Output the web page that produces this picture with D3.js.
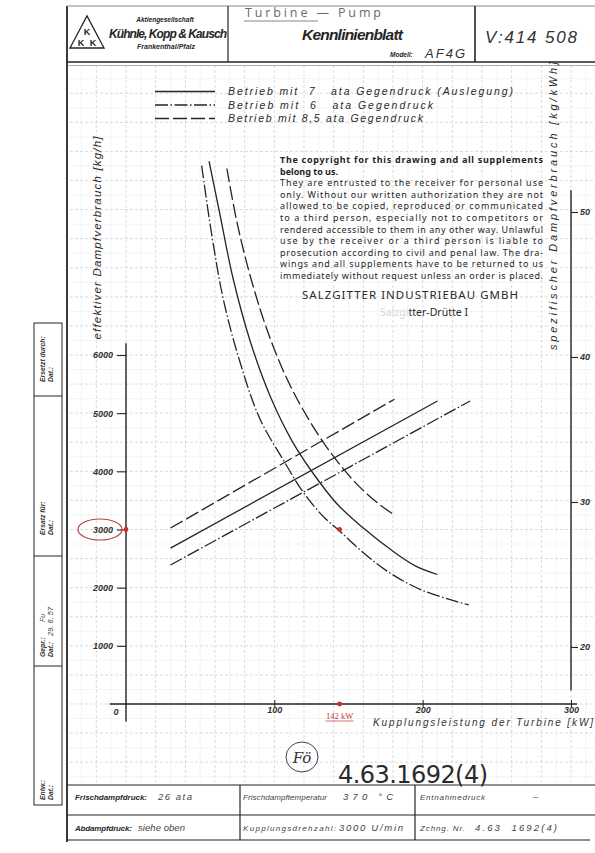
<!DOCTYPE html>
<html><head><meta charset="utf-8">
<script src="https://cdn.jsdelivr.net/npm/d3@7"></script>
<style>
html,body{margin:0;padding:0;background:#fff;}
svg{display:block;}
</style></head>
<body><svg id="c" width="595" height="853"></svg>
<script>
// ---------------- DATA ----------------
const xTicks = [100, 200, 300];
const leftTicks = [1000, 2000, 3000, 4000, 5000, 6000];
const rightTicks = [20, 30, 40, 50];

const seriesKeys = ["7 ata", "6 ata", "8,5 ata"];
const legendLabels = [
  "Betrieb mit  7   ata Gegendruck (Auslegung)",
  "Betrieb mit  6   ata Gegendruck",
  "Betrieb mit 8,5 ata Gegendruck"
];

// specific steam consumption curves [kg/kWh] vs coupling power [kW]
const specX7  = [56, 63, 72, 84, 98, 112, 126, 142, 160, 180, 195, 210];
const specY7  = [53.5, 50.0, 45.5, 41.0, 37.1, 34.2, 32.0, 29.9, 28.2, 26.6, 25.6, 25.0];
const specX6  = [51, 58, 66, 77, 90, 106, 120, 133, 144, 160, 178, 200, 231];
const specY6  = [53.2, 48.3, 43.8, 39.6, 35.8, 32.9, 30.6, 29.0, 28.0, 26.5, 25.1, 23.9, 22.9];
const specX85 = [68, 75, 84, 95, 108, 122, 138, 155, 170, 181];
const specY85 = [53.0, 49.2, 45.5, 41.9, 38.6, 35.9, 33.4, 31.3, 29.9, 29.1];

// effective steam consumption lines [kg/h] vs coupling power [kW]
const consX7  = [30, 210];
const consY7  = [2680, 5210];
const consX6  = [30, 232];
const consY6  = [2390, 5210];
const consX85 = [30, 181];
const consY85 = [3025, 5240];

// red annotation
const markerX = 144;
const markerY = 3000;
const markerLabel = "142 kW";

const copyrightLines = [
  "The copyright for this drawing and all supplements",
  "belong to us.",
  "They are entrusted to the receiver for personal use",
  "only. Without our written authorization they are not",
  "allowed to be copied, reproduced or communicated",
  "to a third person, especially not to competitors or",
  "rendered accessible to them in any other way. Unlawful",
  "use by the receiver or a third person is liable to",
  "prosecution according to civil and penal law. The dra-",
  "wings and all supplements have to be returned to us",
  "immediately without request unless an order is placed."
];

// ---------------- DRAWING ----------------
const svg = d3.select("#c");
const ink = "#252525";
svg.append("rect").attr("width", 595).attr("height", 853).attr("fill", "#fff");

const x = d3.scaleLinear().domain([0, 300]).range([126, 571]);
const yL = d3.scaleLinear().domain([0, 6000]).range([704, 355]);
const yR = d3.scaleLinear().domain([20, 50]).range([647, 212]);

// graph-paper grid
const defs = svg.append("defs");
defs.append("clipPath").attr("id", "gclip").append("rect")
  .attr("x", 68).attr("y", 66).attr("width", 527).attr("height", 716);
const grid = svg.append("g").attr("clip-path", "url(#gclip)");
d3.range(-40, 321, 10).forEach(v => {
  const major = v % 20 === 0;
  grid.append("line").attr("x1", x(v)).attr("x2", x(v)).attr("y1", 60).attr("y2", 790)
    .attr("stroke", major ? "#cdcdcd" : "#e9e9e9").attr("stroke-width", major ? 0.7 : 0.5)
    .attr("stroke-dasharray", major ? "3,2" : null);
});
d3.range(-1500, 11500, 250).forEach(v => {
  const major = v % 500 === 0;
  grid.append("line").attr("x1", 60).attr("x2", 600).attr("y1", yL(v)).attr("y2", yL(v))
    .attr("stroke", major ? "#cdcdcd" : "#e9e9e9").attr("stroke-width", major ? 0.7 : 0.5)
    .attr("stroke-dasharray", major ? "3,2" : null);
});

// frame + title block
const fr = svg.append("g").attr("stroke", ink).attr("fill", "none");
fr.append("line").attr("x1", 67).attr("x2", 67).attr("y1", 6).attr("y2", 842).attr("stroke-width", 1.8);
fr.append("line").attr("x1", 67).attr("x2", 595).attr("y1", 6).attr("y2", 6).attr("stroke-width", 1).attr("stroke", "#888");
fr.append("line").attr("x1", 67).attr("x2", 595).attr("y1", 62).attr("y2", 62).attr("stroke-width", 1.6);
fr.append("line").attr("x1", 67).attr("x2", 595).attr("y1", 65.5).attr("y2", 65.5).attr("stroke-width", 0.6).attr("stroke", "#777");
fr.append("line").attr("x1", 228).attr("x2", 228).attr("y1", 6).attr("y2", 62).attr("stroke-width", 1.2);
fr.append("line").attr("x1", 475).attr("x2", 475).attr("y1", 6).attr("y2", 62).attr("stroke-width", 1.6);

// logo
const logo = svg.append("g");
logo.append("path").attr("d", "M70,48 L87,16 L104,48 Z").attr("fill", "none").attr("stroke", ink).attr("stroke-width", 1.3);
logo.append("text").attr("x", 87).attr("y", 35).attr("text-anchor", "middle").text("K");
logo.append("text").attr("x", 81).attr("y", 45.5).attr("text-anchor", "middle").text("K");
logo.append("text").attr("x", 93).attr("y", 45.5).attr("text-anchor", "middle").text("K");
logo.selectAll("text").attr("font-family", "Liberation Sans").attr("font-weight", "bold").attr("font-size", 9).attr("fill", ink);

function txt(g, s, xx, yy, o) {
  o = o || {};
  const t = g.append("text").attr("x", xx).attr("y", yy).text(s)
    .attr("font-family", o.family || "Liberation Sans")
    .attr("font-size", o.size || 9)
    .attr("font-style", o.style || "normal")
    .attr("font-weight", o.weight || "normal")
    .attr("fill", o.fill || ink)
    .attr("text-anchor", o.anchor || "start");
  if (o.len) t.attr("textLength", o.len).attr("lengthAdjust", o.adj || "spacing");
  if (o.rot) t.attr("transform", `rotate(${o.rot},${xx},${yy})`);
  if (o.ws) t.attr("xml:space", "preserve");
  return t;
}
const T = svg.append("g");
txt(T, "Aktiengesellschaft", 165, 22, {size: 6.5, style: "italic", weight: "bold", anchor: "middle"});
txt(T, "Kühnle, Kopp & Kausch", 109, 38, {size: 12, style: "italic", weight: "bold", len: 118});
txt(T, "Frankenthal/Pfalz", 166, 49, {size: 7, style: "italic", weight: "bold", anchor: "middle"});
txt(T, "Turbine — Pump", 245, 17, {size: 12.5, fill: "#6a6a6a", len: 136, family: "Open Sans"});
T.append("line").attr("x1", 244).attr("x2", 318).attr("y1", 21).attr("y2", 21).attr("stroke", "#777").attr("stroke-width", 0.9);
txt(T, "Kennlinienblatt", 302, 40, {size: 15.5, style: "italic", weight: "bold", len: 101});
txt(T, "Modell:", 390, 57, {size: 6.5, style: "italic", weight: "bold"});
txt(T, "AF4G", 425, 57.5, {size: 13, style: "italic", len: 40, fill: "#333"});
txt(T, "V:414 508", 485, 43, {size: 17, style: "italic", len: 92, fill: "#333"});

// left strip
const strip = svg.append("g").attr("stroke", ink).attr("fill", "none").attr("stroke-width", 1);
strip.append("rect").attr("x", 34).attr("y", 323).attr("width", 28).attr("height", 482);
[396, 556, 666].forEach(yy => strip.append("line").attr("x1", 34).attr("x2", 62).attr("y1", yy).attr("y2", yy));
const S = svg.append("g");
const sOpt = {size: 6.8, style: "italic", weight: "bold", rot: -90, fill: "#333"};
txt(S, "Ersetzt durch:", 45, 382, sOpt); txt(S, "Dat.:", 52.5, 382, sOpt);
txt(S, "Ersatz für:", 45, 535, sOpt); txt(S, "Dat.:", 52.5, 535, sOpt);
txt(S, "Gepr.:", 45, 657, sOpt); txt(S, "Dat.:", 52.5, 657, sOpt);
txt(S, "Fu", 45, 622, {size: 7, style: "italic", rot: -90, fill: "#555"});
txt(S, "29. 6. 57", 52.5, 636, {size: 7.5, style: "italic", rot: -90, fill: "#444"});
txt(S, "Entw.:", 45, 800, sOpt); txt(S, "Dat.:", 52.5, 800, sOpt);

// legend
const styles = {
  "7 ata": null,
  "6 ata": "13,2.5,1.5,2.5",
  "8,5 ata": "14,4"
};
const L = svg.append("g");
const legY = [91.5, 105, 118.5];
const legLen = [285, 205, 195];
seriesKeys.forEach((k, i) => {
  L.append("line").attr("x1", 155).attr("x2", 215).attr("y1", legY[i]).attr("y2", legY[i])
    .attr("stroke", ink).attr("stroke-width", 1.3).attr("stroke-dasharray", styles[k]);
  txt(L, legendLabels[i], 228, legY[i] + 3.5, {size: 10.5, style: "italic", len: legLen[i], fill: "#2a2a2a", ws: true});
});

// copyright block
const C = svg.append("g");
copyrightLines.forEach((s, i) => {
  const bold = i < 2;
  const just = i !== 1;
  txt(C, s, 280, 163 + i * 11.6, {size: 9, family: "Noto Sans", weight: bold ? "bold" : "normal", len: just ? 263 : null, fill: "#1e1e1e"});
});
txt(C, "SALZGITTER INDUSTRIEBAU GMBH", 302, 299, {size: 11.5, family: "Noto Sans", len: 216, fill: "#2a2a2a"});
const dr = C.append("text").attr("x", 468).attr("y", 316).attr("text-anchor", "end")
  .attr("font-family", "Noto Sans").attr("font-size", 10.5);
dr.append("tspan").attr("fill", "#d8d8d8").text("Salzgi");
dr.append("tspan").attr("fill", "#2a2a2a").text("tter-Drütte I");

// axes
const A = svg.append("g");
// left axis
const gL = A.append("g").attr("transform", `translate(${x(0)},0)`)
  .call(d3.axisLeft(yL).tickValues(leftTicks).tickSize(9).tickPadding(4).tickFormat(d3.format("d")));
gL.select(".domain").remove();
gL.selectAll("line").attr("stroke", ink).attr("stroke-width", 1.1);
gL.selectAll("text").attr("font-family", "Liberation Sans").attr("font-style", "italic")
  .attr("font-weight", "bold").attr("font-size", 9).attr("fill", "#333");
A.append("line").attr("x1", x(0)).attr("x2", x(0)).attr("y1", yL(6200)).attr("y2", yL(-300))
  .attr("stroke", ink).attr("stroke-width", 1.4);
// right axis
const gR = A.append("g").attr("transform", `translate(${x(300)},0)`)
  .call(d3.axisRight(yR).tickValues(rightTicks).tickSize(7).tickPadding(2));
gR.select(".domain").remove();
gR.selectAll("line").attr("stroke", ink).attr("stroke-width", 1.1);
gR.selectAll("text").attr("font-family", "Liberation Sans").attr("font-style", "italic")
  .attr("font-weight", "bold").attr("font-size", 9).attr("fill", "#333");
A.append("line").attr("x1", x(300)).attr("x2", x(300)).attr("y1", yR(51.5)).attr("y2", yR(17))
  .attr("stroke", ink).attr("stroke-width", 1.4);
// x axis
const gX = A.append("g").attr("transform", `translate(0,${yL(0) - 4})`)
  .call(d3.axisBottom(x).tickValues(xTicks).tickSize(7).tickPadding(0));
gX.select(".domain").remove();
gX.selectAll("line").attr("stroke", ink).attr("stroke-width", 1);
gX.selectAll("text").attr("font-family", "Liberation Sans").attr("font-style", "italic")
  .attr("font-weight", "bold").attr("font-size", 9).attr("fill", "#333");
A.append("line").attr("x1", x(-11)).attr("x2", x(304)).attr("y1", yL(0)).attr("y2", yL(0))
  .attr("stroke", ink).attr("stroke-width", 1.3);
txt(A, "0", x(0) - 10, yL(0) + 11, {size: 9, style: "italic", weight: "bold", anchor: "middle", fill: "#333"});

// axis titles
txt(A, "effektiver Dampfverbrauch [kg/h]", 101, 238, {size: 11.5, style: "italic", rot: -90, anchor: "middle", len: 203, fill: "#2a2a2a"});
txt(A, "spezifischer Dampfverbrauch [kg/kWh]", 557, 206, {size: 11, style: "italic", rot: -90, anchor: "middle", len: 288, fill: "#2a2a2a"});
txt(A, "Kupplungsleistung der Turbine [kW]", 593, 726, {size: 10, style: "italic", anchor: "end", len: 220, fill: "#333"});

// curves
const P = svg.append("g").attr("fill", "none").attr("stroke", ink).attr("stroke-width", 1.3);
const specLine = d3.line().x(d => x(d[0])).y(d => yR(d[1])).curve(d3.curveCatmullRom.alpha(0.5));
const consLine = d3.line().x(d => x(d[0])).y(d => yL(d[1]));
const specData = {"7 ata": [specX7, specY7], "6 ata": [specX6, specY6], "8,5 ata": [specX85, specY85]};
const consData = {"7 ata": [consX7, consY7], "6 ata": [consX6, consY6], "8,5 ata": [consX85, consY85]};
seriesKeys.forEach(k => {
  const [sx, sy] = specData[k];
  P.append("path").attr("d", specLine(sx.map((v, i) => [v, sy[i]]))).attr("stroke-dasharray", styles[k]);
  const [cx, cy] = consData[k];
  P.append("path").attr("d", consLine(cx.map((v, i) => [v, cy[i]]))).attr("stroke-dasharray", styles[k]);
});

// red annotation
const R = svg.append("g");
R.append("ellipse").attr("cx", 100).attr("cy", yL(markerY)).attr("rx", 22).attr("ry", 10.5)
  .attr("fill", "none").attr("stroke", "#b54747").attr("stroke-width", 1.2);
[[0, markerY], [markerX, markerY], [markerX, 0]].forEach(p => {
  R.append("circle").attr("cx", x(p[0])).attr("cy", yL(p[1])).attr("r", 2.4).attr("fill", "#d42a2a");
});
txt(R, markerLabel, x(markerX), 719, {size: 8.5, family: "Liberation Serif", anchor: "middle", fill: "#c83232"});
R.append("line").attr("x1", x(markerX) - 14).attr("x2", x(markerX) + 14).attr("y1", 721).attr("y2", 721)
  .attr("stroke", "#c83232").attr("stroke-width", 0.7);

// stamp + drawing number
const D = svg.append("g");
D.append("ellipse").attr("cx", 302).attr("cy", 757).attr("rx", 16).attr("ry", 15)
  .attr("fill", "none").attr("stroke", "#444").attr("stroke-width", 1);
txt(D, "Fö", 302, 763, {size: 15, style: "italic", anchor: "middle", fill: "#333", family: "DejaVu Serif"});
txt(D, "4.63.1692(4)", 338, 783, {size: 24, family: "DejaVu Sans", len: 150, fill: "#2a2a2a"});

// bottom table
const B = svg.append("g").attr("stroke", ink).attr("stroke-width", 1.2);
B.append("line").attr("x1", 67).attr("x2", 595).attr("y1", 785).attr("y2", 785);
B.append("line").attr("x1", 67).attr("x2", 595).attr("y1", 815).attr("y2", 815);
B.append("line").attr("x1", 67).attr("x2", 590).attr("y1", 840).attr("y2", 840);
B.append("line").attr("x1", 240).attr("x2", 240).attr("y1", 785).attr("y2", 840);
B.append("line").attr("x1", 415).attr("x2", 415).attr("y1", 785).attr("y2", 840);
const BT = svg.append("g");
const lab = {size: 8, style: "italic", weight: "bold", fill: "#2a2a2a"};
const hand = {size: 9.5, style: "italic", fill: "#444"};
txt(BT, "Frischdampfdruck:", 75, 800, Object.assign({len: 72}, lab));
txt(BT, "26 ata", 158, 800, Object.assign({len: 34}, hand));
txt(BT, "Frischdampftemperatur", 243, 800, Object.assign({len: 84}, hand, {size: 8}));
txt(BT, "370 °C", 343, 800, Object.assign({len: 50}, hand));
txt(BT, "Entnahmedruck", 420, 800, Object.assign({len: 65}, hand, {size: 8}));
txt(BT, "–", 533, 800, hand);
txt(BT, "Abdampfdruck:", 75, 831, Object.assign({len: 57}, lab));
txt(BT, "siehe oben", 138, 831, Object.assign({len: 47}, hand));
txt(BT, "Kupplungsdrehzahl:", 243, 831, Object.assign({len: 93}, hand, {size: 8}));
txt(BT, "3000 U/min", 339, 831, Object.assign({len: 64}, hand));
txt(BT, "Zchng. Nr.", 420, 831, Object.assign({len: 45}, hand, {size: 8}));
txt(BT, "4.63  1692(4)", 475, 831, Object.assign({len: 82, ws: true}, hand));
</script>
</body></html>
